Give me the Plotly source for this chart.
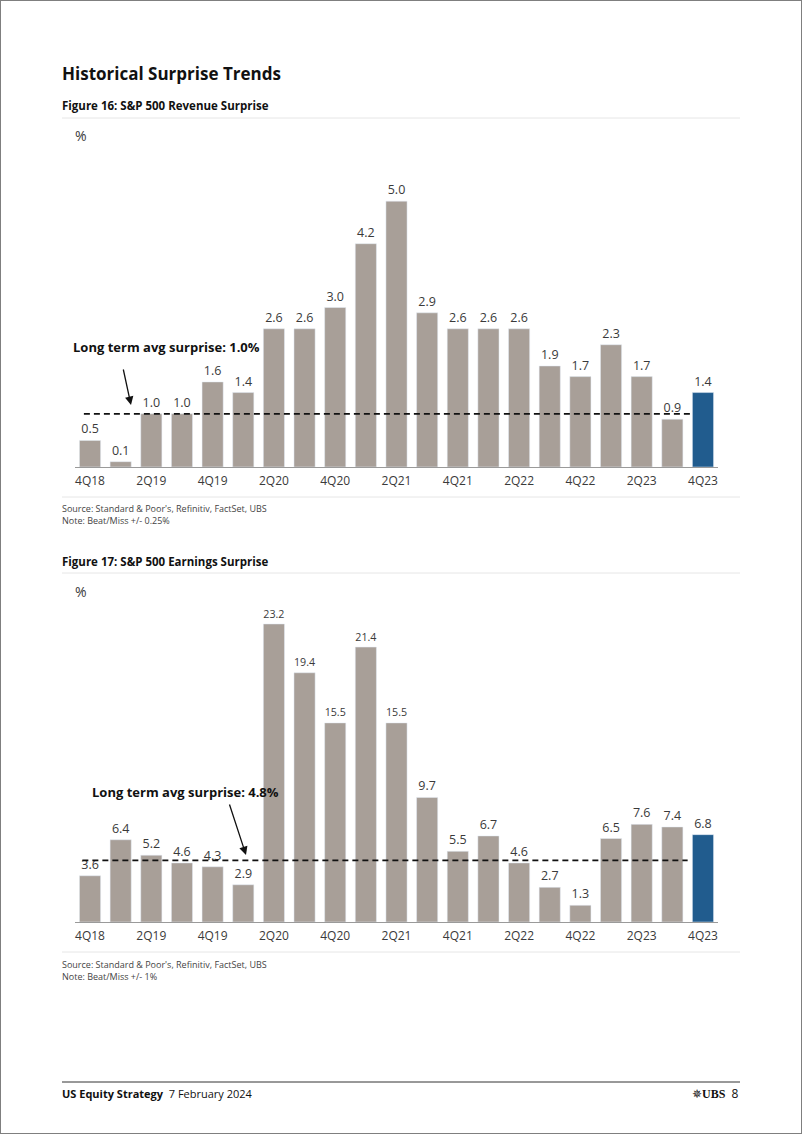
import plotly.graph_objects as go

quarters = ["4Q18", "1Q19", "2Q19", "3Q19", "4Q19", "1Q20", "2Q20", "3Q20", "4Q20",
            "1Q21", "2Q21", "3Q21", "4Q21", "1Q22", "2Q22", "3Q22", "4Q22",
            "1Q23", "2Q23", "3Q23", "4Q23"]
revenue_surprise = [0.5, 0.1, 1.0, 1.0, 1.6, 1.4, 2.6, 2.6, 3.0, 4.2, 5.0, 2.9,
                    2.6, 2.6, 2.6, 1.9, 1.7, 2.3, 1.7, 0.9, 1.4]
earnings_surprise = [3.6, 6.4, 5.2, 4.6, 4.3, 2.9, 23.2, 19.4, 15.5, 21.4, 15.5, 9.7,
                     5.5, 6.7, 4.6, 2.7, 1.3, 6.5, 7.6, 7.4, 6.8]
revenue_avg = 1.0
earnings_avg = 4.8
tick_labels = quarters[::2]

W, H = 802, 1134
GREY = "#A89F98"
BLUE = "#215C8E"
TXT = "#3a3a3a"
FONT = "Open Sans"


def px(y):
    return 1 - y / H


def pxx(x):
    return x / W


colors = [GREY] * (len(quarters) - 1) + [BLUE]

fig = go.Figure()
fig.add_trace(go.Bar(x=quarters, y=revenue_surprise, marker_color=colors,
                     text=[f"{v:.1f}" for v in revenue_surprise], textposition="outside",
                     textfont=dict(size=12.5, color=TXT, family=FONT), cliponaxis=False,
                     xaxis="x", yaxis="y", showlegend=False))
fig.add_trace(go.Bar(x=quarters, y=earnings_surprise, marker_color=colors,
                     text=[f"{v:.1f}" for v in earnings_surprise], textposition="outside",
                     textfont=dict(size=12.5, color=TXT, family=FONT), cliponaxis=False,
                     xaxis="x2", yaxis="y2", showlegend=False))

xdom = [pxx(74.7), pxx(718.3)]
axis_common = dict(tickmode="array", tickvals=tick_labels, ticktext=tick_labels,
                   showline=True, linecolor="#9a9a9a", linewidth=1, ticks="",
                   showgrid=False, zeroline=False, ticklabelstandoff=3,
                   tickfont=dict(size=12, color=TXT, family=FONT),
                   range=[-0.5, len(quarters) - 0.5], fixedrange=True)
fig.update_layout(
    width=W, height=H, margin=dict(l=0, r=0, t=0, b=0),
    paper_bgcolor="white", plot_bgcolor="white", bargap=0.31,
    font=dict(family=FONT, color=TXT),
    xaxis=dict(domain=xdom, anchor="y", **axis_common),
    yaxis=dict(domain=[px(467), px(148)], range=[0, 6], visible=False, anchor="x"),
    xaxis2=dict(domain=xdom, anchor="y2", **axis_common),
    yaxis2=dict(domain=[px(922), px(588)], range=[0, 26], visible=False, anchor="x2"),
)

ann = []


def text(x, y, s, size, bold=False, color="#111111", xanchor="left"):
    ann.append(dict(x=pxx(x), y=px(y), xref="paper", yref="paper", text=(f"<b>{s}</b>" if bold else s),
                    showarrow=False, xanchor=xanchor, yanchor="middle",
                    font=dict(size=size, color=color, family=FONT)))


text(60, 74, "Historical Surprise Trends", 17, bold=True)
text(60, 106, "Figure 16: S&P 500 Revenue Surprise", 11.5, bold=True)
text(73, 135, "%", 14, color=TXT)
text(71, 347, "Long term avg surprise: 1.0%", 13, bold=True)
text(60, 508, "Source: Standard &amp; Poor's, Refinitiv, FactSet, UBS", 9, color="#444444")
text(60, 520, "Note: Beat/Miss +/- 0.25%", 9, color="#444444")

text(60, 562, "Figure 17: S&P 500 Earnings Surprise", 11.5, bold=True)
text(73, 591, "%", 14, color=TXT)
text(90, 792, "Long term avg surprise: 4.8%", 13, bold=True)
text(60, 964, "Source: Standard &amp; Poor's, Refinitiv, FactSet, UBS", 9, color="#444444")
text(60, 976, "Note: Beat/Miss +/- 1%", 9, color="#444444")

ann.append(dict(x=pxx(60), y=px(1093), xref="paper", yref="paper",
                text="<b>US Equity Strategy</b>  7 February 2024", showarrow=False,
                xanchor="left", yanchor="middle", font=dict(size=11, color="#111111", family=FONT)))
ann.append(dict(x=pxx(741), y=px(1093), xref="paper", yref="paper",
                text="<span style='font-family:Liberation Serif'>\u2735<b>UBS</b></span>  8", showarrow=False,
                xanchor="right", yanchor="middle", font=dict(size=12, color="#111111", family=FONT)))

# arrows
for (hx, hy, tx, ty) in [(131, 405, 123, 368), (246, 855, 229, 803)]:
    ann.append(dict(x=pxx(hx), y=px(hy), xref="paper", yref="paper", ax=tx - hx, ay=ty - hy,
                    text="", showarrow=True, arrowhead=2, arrowsize=1.3, arrowwidth=1.3,
                    arrowcolor="#111111"))

fig.update_layout(annotations=ann)

shapes = []
# long-term average dashed lines (data coordinates)
shapes.append(dict(type="line", xref="x", yref="y", x0=-0.2, x1=19.6,
                   y0=revenue_avg, y1=revenue_avg,
                   line=dict(color="#111111", width=1.6, dash="6px,4px"), layer="above"))
shapes.append(dict(type="line", xref="x2", yref="y2", x0=-0.25, x1=19.5,
                   y0=earnings_avg, y1=earnings_avg,
                   line=dict(color="#111111", width=1.6, dash="6px,4px"), layer="above"))
for y in [118, 497, 573, 952]:
    shapes.append(dict(type="line", xref="paper", yref="paper", x0=pxx(62), x1=pxx(740),
                       y0=px(y), y1=px(y), line=dict(color="#e6e6e6", width=1)))
shapes.append(dict(type="line", xref="paper", yref="paper", x0=pxx(62), x1=pxx(740),
                   y0=px(1082), y1=px(1082), line=dict(color="#333333", width=1)))
shapes.append(dict(type="rect", xref="paper", yref="paper", x0=0, x1=1, y0=0, y1=1,
                   line=dict(color="#7f7f7f", width=2)))
fig.update_layout(shapes=shapes)

fig.write_html("out.html", config={"displayModeBar": False, "staticPlot": True},
               post_script="document.body.style.margin='0';document.body.style.overflow='hidden';")
